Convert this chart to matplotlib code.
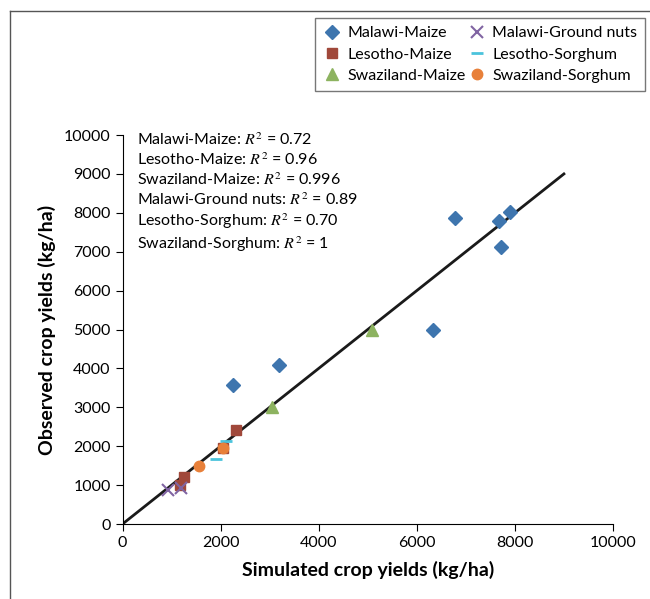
import matplotlib
matplotlib.use('Agg')
import matplotlib.pyplot as plt
from matplotlib.lines import Line2D

plt.rcParams['font.family'] = ['Lato', 'DejaVu Sans']
plt.rcParams['mathtext.fontset'] = 'stix'

# simulated (x) vs observed (y) yields in kg/ha
mw_maize_sim = [2250, 3200, 6330, 6770, 7670, 7910, 7710]
mw_maize_obs = [3580, 4080, 5000, 7870, 7790, 8020, 7120]
ls_maize_sim = [2310, 2040, 1250, 1170]
ls_maize_obs = [2420, 1960, 1210, 1000]
sz_maize_sim = [3050, 5090]
sz_maize_obs = [3010, 4990]
mw_gnut_sim = [920, 1200]
mw_gnut_obs = [870, 930]
ls_sorg_sim = [2100, 1900]
ls_sorg_obs = [2130, 1680]
sz_sorg_sim = [1550, 2040]
sz_sorg_obs = [1500, 1960]
one_to_one = [0, 9000]

r2_lines = ['Malawi-Maize: $R^2$ = 0.72',
            'Lesotho-Maize: $R^2$ = 0.96',
            'Swaziland-Maize: $R^2$ = 0.996',
            'Malawi-Ground nuts: $R^2$ = 0.89',
            'Lesotho-Sorghum: $R^2$ = 0.70',
            'Swaziland-Sorghum: $R^2$ = 1']

fig = plt.figure(figsize=(6.5, 5.99), dpi=100)
ax = fig.add_axes([0.1885, 0.1252, 0.7545, 0.6494])

ax.plot(one_to_one, one_to_one, color='#1a1a1a', lw=2, zorder=1)
ax.plot(mw_maize_sim, mw_maize_obs, 'D', color='#3E75AE', ms=7.5, ls='none', label='Malawi-Maize')
ax.plot(ls_maize_sim, ls_maize_obs, 's', color='#A0483A', ms=7.5, ls='none', label='Lesotho-Maize')
ax.plot(sz_maize_sim, sz_maize_obs, '^', color='#8DB360', ms=8.5, ls='none', label='Swaziland-Maize')
ax.plot(mw_gnut_sim, mw_gnut_obs, 'x', color='#8064A2', ms=9, mew=1.5, ls='none', label='Malawi-Ground nuts')
ax.plot(ls_sorg_sim, ls_sorg_obs, '_', color='#4BC3DC', ms=9, mew=2, ls='none', label='Lesotho-Sorghum')
ax.plot(sz_sorg_sim, sz_sorg_obs, 'o', color='#E8803A', ms=7.5, ls='none', label='Swaziland-Sorghum')

ax.set_xlim(0, 10000)
ax.set_ylim(0, 10000)
ax.set_xticks(range(0, 10001, 2000))
ax.set_yticks(range(0, 10001, 1000))
ax.spines['top'].set_visible(False)
ax.spines['right'].set_visible(False)
ax.tick_params(direction='out', length=5, labelsize=11.5, colors='black')
ax.set_xlabel('Simulated crop yields (kg/ha)', fontsize=14, fontweight='bold', labelpad=8)
ax.set_ylabel('Observed crop yields (kg/ha)', fontsize=14, fontweight='bold', labelpad=6)

ax.text(0.03, 1.01, '\n'.join(r2_lines), transform=ax.transAxes, fontsize=11.5,
        va='top', ha='left', linespacing=1.25)

fig.legend(ncol=2, loc='upper right', bbox_to_anchor=(0.993, 0.970), borderaxespad=0,
           fontsize=11.5, frameon=True, fancybox=False, edgecolor='#555555',
           handletextpad=0.4, columnspacing=0.2, borderpad=0.5, labelspacing=0.45,
           handlelength=1.1)

# outer frame (top and left only)
fig.add_artist(Line2D([0.016, 1.0], [0.982, 0.982], color='#555555', lw=1, transform=fig.transFigure))
fig.add_artist(Line2D([0.016, 0.016], [0.0, 0.982], color='#555555', lw=1, transform=fig.transFigure))

fig.savefig('out.png', dpi=100)
